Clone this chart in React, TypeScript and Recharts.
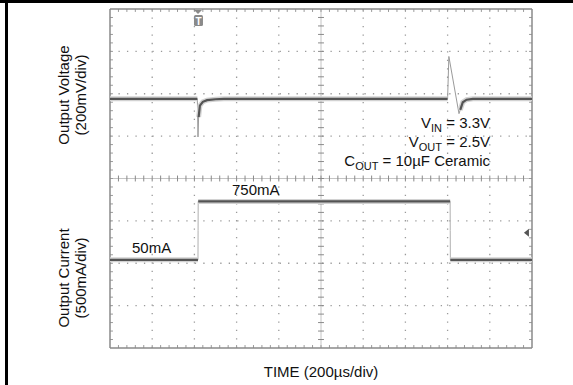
import React from "react";
import { LineChart, Line, XAxis, YAxis, ReferenceLine, ReferenceDot } from "recharts";

// Scope capture, both channels in screen divisions (10 x 8 div).
// Voltage: 200mV/div, current: 500mA/div, time: 200us/div.

const vTime = [0, 2.07, 2.085, 2.1, 2.13, 2.2, 2.3, 2.5, 2.7, 8.0, 8.03, 8.27, 8.3, 8.36, 8.45, 8.6, 10];
const vDiv = [5.88, 5.88, 4.98, 5.45, 5.72, 5.81, 5.85, 5.87, 5.88, 5.88, 6.88, 5.53, 5.62, 5.8, 5.86, 5.88, 5.88];
const vFast = [2.085, 8.03, 8.27];

const iTime = [0, 2.085, 2.0875, 2.09, 8.06, 8.0625, 8.065, 10];
const iDiv = [2.08, 2.08, 2.77, 3.46, 3.46, 2.77, 2.08, 2.08];
const iFast = [2.0875, 8.0625];

const gridX = [1, 2, 3, 4, 6, 7, 8, 9];
const gridY = [1, 2, 3, 5, 6, 7];
const minorX = Array.from({ length: 49 }, (_, k) => (k + 1) * 0.2);
const minorY = Array.from({ length: 39 }, (_, k) => (k + 1) * 0.2);

const FONT = '"Liberation Sans", Arial, Helvetica, sans-serif';
const TK = 0.07;

const full = (t: number[], y: number[]) => t.map((x, k) => ({ t: x, y: y[k] }));
const slow = (t: number[], y: number[], fast: number[]) =>
  t.map((x, k) => ({ t: x, y: fast.includes(x) ? null : y[k] }));

const TriggerMark = (p: any) => {
  const { cx, cy } = p;
  return (
    <g>
      <polygon points={`${cx - 4},${cy + 1} ${cx + 4},${cy + 1} ${cx},${cy + 5}`} fill="#8a8a8a" />
      <rect x={cx - 4} y={cy + 6} width={9} height={11} rx={1.5} fill="#8a8a8a" />
      <text x={cx + 0.5} y={cy + 15.5} textAnchor="middle" fontSize={10} fontWeight="bold" fill="#fff" fontFamily={FONT}>T</text>
    </g>
  );
};

const GroundMark = (p: any) => {
  const { cx, cy } = p;
  return <polygon points={`${cx - 3},${cy} ${cx + 2},${cy - 4} ${cx + 2},${cy + 4}`} fill="#555" />;
};

export default function App() {
  const vFull = full(vTime, vDiv);
  const vSlow = slow(vTime, vDiv, vFast);
  const iFull = full(iTime, iDiv);
  const iSlow = slow(iTime, iDiv, iFast);

  return (
    <div style={{ position: "absolute", left: 0, top: 0, width: 573, height: 385, background: "#fff", fontFamily: FONT }}>
      <LineChart width={573} height={385} margin={{ top: 9, right: 41, bottom: 37, left: 110 }}>
        <XAxis type="number" dataKey="t" domain={[0, 10]} hide allowDataOverflow />
        <YAxis type="number" dataKey="y" domain={[0, 8]} hide allowDataOverflow />

        {gridX.map((g) => (
          <ReferenceLine key={"gx" + g} x={g} stroke="#9a9a9a" strokeWidth={1.3} strokeDasharray="1.3 7.14" />
        ))}
        {gridY.map((g) => (
          <ReferenceLine key={"gy" + g} y={g} stroke="#9a9a9a" strokeWidth={1.3} strokeDasharray="1.3 7.18" />
        ))}
        <ReferenceLine x={5} stroke="#c4c4c4" strokeWidth={1} />
        <ReferenceLine y={4} stroke="#c4c4c4" strokeWidth={1} />

        {minorX.map((m) => (
          <ReferenceLine key={"cx" + m} segment={[{ x: m, y: 4 - TK }, { x: m, y: 4 + TK }]} stroke="#8a8a8a" />
        ))}
        {minorY.map((m) => (
          <ReferenceLine key={"cy" + m} segment={[{ x: 5 - TK, y: m }, { x: 5 + TK, y: m }]} stroke="#8a8a8a" />
        ))}
        {minorX.map((m) => (
          <ReferenceLine key={"tx" + m} segment={[{ x: m, y: 8 }, { x: m, y: 8 - TK }]} stroke="#9a9a9a" />
        ))}
        {minorX.map((m) => (
          <ReferenceLine key={"bx" + m} segment={[{ x: m, y: 0 }, { x: m, y: TK }]} stroke="#9a9a9a" />
        ))}
        {minorY.map((m) => (
          <ReferenceLine key={"ly" + m} segment={[{ x: 0, y: m }, { x: TK, y: m }]} stroke="#9a9a9a" />
        ))}
        {minorY.map((m) => (
          <ReferenceLine key={"ry" + m} segment={[{ x: 10, y: m }, { x: 10 - TK, y: m }]} stroke="#9a9a9a" />
        ))}

        <ReferenceLine x={0} stroke="#8a8a8a" strokeWidth={1.5} />
        <ReferenceLine x={10} stroke="#8a8a8a" strokeWidth={1.5} />
        <ReferenceLine y={0} stroke="#8a8a8a" strokeWidth={1.5} />
        <ReferenceLine y={8} stroke="#8a8a8a" strokeWidth={1.5} />

        <Line data={vFull} dataKey="y" type="linear" stroke="#9a9a9a" strokeWidth={1} dot={false} activeDot={false} isAnimationActive={false} />
        <Line data={iFull} dataKey="y" type="linear" stroke="#b0b0b0" strokeWidth={1} dot={false} activeDot={false} isAnimationActive={false} />
        <Line data={vSlow} dataKey="y" type="linear" stroke="#d2d2d2" strokeWidth={5} dot={false} activeDot={false} isAnimationActive={false} />
        <Line data={iSlow} dataKey="y" type="linear" stroke="#d2d2d2" strokeWidth={5} dot={false} activeDot={false} isAnimationActive={false} />
        <Line data={vSlow} dataKey="y" type="linear" stroke="#545454" strokeWidth={2.2} dot={false} activeDot={false} isAnimationActive={false} />
        <Line data={iSlow} dataKey="y" type="linear" stroke="#545454" strokeWidth={2.2} dot={false} activeDot={false} isAnimationActive={false} />

        <ReferenceDot x={2.085} y={8} r={0} shape={TriggerMark} />
        <ReferenceDot x={9.88} y={2.72} r={0} shape={GroundMark} />
      </LineChart>

      <svg width={573} height={385} style={{ position: "absolute", left: 0, top: 0, pointerEvents: "none" }}>
        <line x1={0} y1={1.5} x2={573} y2={1.5} stroke="#000" strokeWidth={3} />
        <line x1={6.5} y1={0} x2={6.5} y2={385} stroke="#000" strokeWidth={3} />

        <g fontFamily={FONT} fontSize={15} fill="#111">
          <text transform="translate(69,95) rotate(-90)" textAnchor="middle">Output Voltage</text>
          <text transform="translate(86,95) rotate(-90)" textAnchor="middle">(200mV/div)</text>
          <text transform="translate(69,278) rotate(-90)" textAnchor="middle">Output Current</text>
          <text transform="translate(86,278) rotate(-90)" textAnchor="middle">(500mA/div)</text>
          <text x={321} y={377} textAnchor="middle">TIME (200µs/div)</text>

          <text x={490} y={128} textAnchor="end">
            V<tspan fontSize={11} dy={4}>IN</tspan><tspan dy={-4}> = 3.3V</tspan>
          </text>
          <text x={490} y={147} textAnchor="end">
            V<tspan fontSize={11} dy={4}>OUT</tspan><tspan dy={-4}> = 2.5V</tspan>
          </text>
          <text x={490} y={166} textAnchor="end">
            C<tspan fontSize={11} dy={4}>OUT</tspan><tspan dy={-4}> = 10µF Ceramic</tspan>
          </text>

          <text x={232} y={195}>750mA</text>
          <text x={132} y={253}>50mA</text>
        </g>
      </svg>
    </div>
  );
}
